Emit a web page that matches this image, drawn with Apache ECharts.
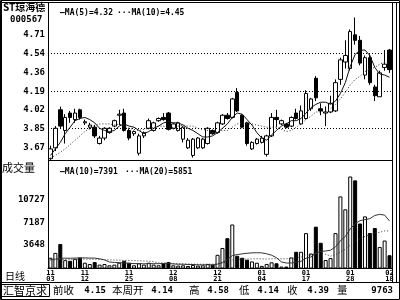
<!DOCTYPE html>
<html><head><meta charset="utf-8">
<script src="https://cdn.jsdelivr.net/npm/echarts@6/dist/echarts.min.js"></script>
<style>html,body{margin:0;padding:0;background:#fff}#c{width:400px;height:300px}</style>
</head><body><div id="c"></div>
<script>
const dates = [
'2004-11-03','2004-11-04','2004-11-05','2004-11-08','2004-11-09','2004-11-10','2004-11-11','2004-11-12','2004-11-15','2004-11-16',
'2004-11-17','2004-11-18','2004-11-19','2004-11-22','2004-11-23','2004-11-24','2004-11-25','2004-11-26','2004-11-29','2004-11-30',
'2004-12-01','2004-12-02','2004-12-03','2004-12-06','2004-12-07','2004-12-08','2004-12-09','2004-12-10','2004-12-13','2004-12-14',
'2004-12-15','2004-12-16','2004-12-17','2004-12-20','2004-12-21','2004-12-22','2004-12-23','2004-12-24','2004-12-27','2004-12-28',
'2004-12-29','2004-12-30','2004-12-31','2005-01-04','2005-01-05','2005-01-06','2005-01-07','2005-01-10','2005-01-11','2005-01-12',
'2005-01-13','2005-01-14','2005-01-17','2005-01-18','2005-01-19','2005-01-20','2005-01-21','2005-01-24','2005-01-25','2005-01-26',
'2005-01-27','2005-01-28','2005-01-31','2005-02-01','2005-02-02','2005-02-03','2005-02-04','2005-02-16','2005-02-17','2005-02-18'];
const open = [
3.57,3.67,4.02,3.83,3.99,3.93,4.02,3.90,3.86,3.86,
3.71,3.76,3.81,3.87,3.97,3.99,3.83,3.80,3.62,3.78,
3.85,3.83,3.92,3.95,3.99,3.85,3.83,3.75,3.67,3.60,
3.67,3.67,3.71,3.83,3.81,3.89,3.97,3.95,4.18,3.97,
3.90,3.66,3.71,3.72,3.61,3.78,3.95,3.89,3.89,3.87,
3.99,3.89,3.94,4.03,4.31,4.03,3.99,4.00,4.01,4.30,
4.46,4.40,4.71,4.66,4.34,4.50,4.23,4.14,4.41,4.57];
const close = [
3.66,3.85,3.87,3.95,3.95,3.99,3.95,3.91,3.88,3.78,
3.76,3.85,3.85,3.92,3.98,3.83,3.76,3.82,3.78,3.81,
3.92,3.90,3.94,3.93,3.84,3.89,3.90,3.86,3.74,3.75,
3.76,3.75,3.85,3.80,3.90,3.97,3.94,4.12,4.01,3.86,
3.71,3.72,3.75,3.76,3.78,3.95,3.93,3.92,3.86,3.95,
3.94,4.01,4.17,4.12,4.13,4.01,4.00,4.08,4.27,4.48,
4.52,4.74,4.66,4.45,4.50,4.27,4.15,4.36,4.44,4.39];
const low = [
3.56,3.64,3.85,3.71,3.90,3.90,3.93,3.88,3.84,3.76,
3.70,3.74,3.80,3.86,3.88,3.82,3.74,3.78,3.60,3.76,
3.84,3.82,3.91,3.92,3.83,3.84,3.82,3.72,3.66,3.58,
3.66,3.66,3.70,3.79,3.80,3.88,3.93,3.94,4.00,3.85,
3.69,3.65,3.70,3.71,3.59,3.77,3.86,3.88,3.85,3.86,
3.93,3.88,3.93,4.01,4.10,3.97,3.87,3.99,4.00,4.25,
4.40,4.38,4.62,4.43,4.30,4.25,4.10,4.14,4.38,4.36];
const high = [
3.69,3.87,4.05,3.98,4.01,4.03,4.03,3.93,3.90,3.88,
3.78,3.86,3.86,3.93,4.02,4.03,3.85,3.83,3.80,3.82,
3.94,3.91,3.95,3.99,4.00,3.90,3.91,3.87,3.76,3.76,
3.77,3.76,3.86,3.84,3.91,3.98,3.99,4.13,4.22,3.98,
3.91,3.73,3.76,3.78,3.79,3.99,4.02,3.93,3.90,3.96,
4.03,4.06,4.20,4.13,4.33,4.08,4.05,4.15,4.30,4.50,
4.66,4.76,4.87,4.70,4.52,4.53,4.25,4.38,4.57,4.58];
const ma5 = [
3.60,3.66,3.72,3.80,3.86,3.92,3.94,3.95,3.93,3.90,
3.85,3.83,3.82,3.83,3.87,3.89,3.87,3.86,3.83,3.80,
3.82,3.85,3.87,3.90,3.91,3.90,3.90,3.88,3.85,3.83,
3.80,3.77,3.77,3.78,3.81,3.85,3.89,3.95,3.99,3.98,
3.93,3.88,3.81,3.76,3.74,3.79,3.83,3.87,3.89,3.92,
3.92,3.94,3.99,4.04,4.07,4.09,4.09,4.07,4.10,4.17,
4.27,4.42,4.53,4.57,4.57,4.52,4.41,4.35,4.34,4.32];
const ma10 = [
3.58,3.60,3.63,3.66,3.70,3.74,3.78,3.82,3.85,3.88,
3.89,3.89,3.89,3.88,3.89,3.87,3.85,3.84,3.83,3.84,
3.85,3.86,3.87,3.87,3.85,3.86,3.87,3.88,3.87,3.87,
3.85,3.84,3.83,3.81,3.82,3.83,3.83,3.86,3.89,3.90,
3.89,3.89,3.88,3.87,3.86,3.86,3.86,3.84,3.82,3.83,
3.86,3.89,3.93,3.96,4.00,4.00,4.01,4.03,4.07,4.12,
4.18,4.25,4.30,4.33,4.37,4.40,4.41,4.44,4.46,4.45];
const volume = [
1670,2430,3800,1300,1200,1500,1700,900,700,1000,
600,700,500,600,900,1200,900,500,800,600,
900,600,500,800,1000,500,450,500,400,550,
450,500,700,600,2130,3190,4710,6840,1980,1670,
1370,1100,900,400,710,960,810,300,300,1720,
2600,2600,5500,2330,6500,4000,1320,1620,5500,11200,
9200,14300,13700,7000,8100,5520,6300,3350,4350,2063];
const volMa10 = [
1400,1450,1600,1600,1600,1620,1650,1650,1620,1620,
1513,1340,1010,940,910,880,800,760,770,730,
760,750,750,770,780,710,665,665,625,620,
575,565,585,565,678,947,1373,2007,2165,2277,
2369,2429,2449,2429,2287,2064,1674,1020,852,857,
980,1130,1590,1783,2362,2666,2717,2849,3369,4317,
4977,6147,6967,7434,7594,7746,8244,8417,8302,7388];
const volMa20 = [
1300,1320,1380,1400,1420,1430,1450,1450,1440,1430,
1400,1370,1340,1310,1290,1270,1240,1220,1200,1175,
1137,1045,880,855,845,795,733,713,698,675,
668,658,668,668,729,829,1019,1336,1395,1449,
1472,1497,1517,1497,1483,1506,1524,1514,1509,1567,
1675,1780,2020,2106,2325,2365,2196,1935,2111,2587,
2979,3639,4279,4609,4978,5206,5481,5633,5836,5853];
const priceTicks = [3.67,3.85,4.02,4.19,4.36,4.54,4.71];
const priceGridLines = [4.54,4.19,3.85];
const volTicks = [3648,7187,10727];
const dateLabelIdx = [0,7,16,25,34,43,52,61,69];
const stockName = 'ST琼海德';
const stockCode = '000567';
const priceLegend = ['—MA(5)=4.32','···MA(10)=4.45'];
const volLegend = ['—MA(10)=7391','···MA(20)=5851'];
const infoLabels = ['前收','本周开','高','低','收','量'];
const infoValues = ['4.15','4.14','4.58','4.14','4.39','9763'];

const mono = 'DejaVu Sans Mono';
const cjk = 'Noto Sans CJK SC';
const isUp = i => close[i] >= open[i];

function txt(text, x, y, font, size, weight, align) {
  return {type:'text', x:x, y:y, silent:true,
    style:{text:text, fill:'#000', font:(weight||'normal')+' '+size+'px "'+font+'"',
      textAlign:align||'left', textVerticalAlign:'middle'}};
}
function ln(x1,y1,x2,y2,w){
  return {type:'line', silent:true, shape:{x1:x1,y1:y1,x2:x2,y2:y2}, style:{stroke:'#000', lineWidth:w||1}};
}

const infoLabelX = [53,112,189,239,287,337];
const infoValueX = [106,173,229,279,329,393];
const graphics = [
  {type:'rect', silent:true, shape:{x:0.5,y:0.5,width:399,height:299}, style:{fill:'none',stroke:'#000',lineWidth:1}},
  ln(0,2.5,400,2.5), ln(1.5,0,1.5,300),
  ln(392.5,2,392.5,282), ln(396.5,2,396.5,282),
  ln(48.5,2,48.5,268.5),
  ln(48,160.5,392,160.5),
  ln(0,282.5,400,282.5),
  {type:'rect', silent:true, shape:{x:1.5,y:284.5,width:48,height:12}, style:{fill:'none',stroke:'#000',lineWidth:1}},
  txt(stockName, 3, 7.5, cjk, 10, 'bold'),
  txt(stockCode, 10, 19.5, mono, 9, 'bold'),
  txt(priceLegend[0], 60, 13, mono, 8, 'bold'),
  txt(priceLegend[1], 117, 13, mono, 8, 'bold'),
  txt(volLegend[0], 60, 172, mono, 8, 'bold'),
  txt(volLegend[1], 125, 172, mono, 8, 'bold'),
  txt('成交量', 2, 168, cjk, 11),
  txt('日线', 5, 276, cjk, 10),
  txt('汇智京求', 3, 290.5, cjk, 11)
];
infoLabels.forEach((t,i)=>graphics.push(txt(t, infoLabelX[i], 290.5, cjk, 10.5)));
infoValues.forEach((t,i)=>graphics.push(txt(t, infoValueX[i], 290.5, mono, 9, 'bold', 'right')));

const chart = echarts.init(document.getElementById('c'), null, {renderer:'canvas'});
chart.setOption({
  animation:false,
  backgroundColor:'#fff',
  grid:[{left:48,right:8,top:4,height:156},{left:48,right:8,top:163,bottom:31.5}],
  xAxis:[
    {type:'category', gridIndex:0, data:dates, boundaryGap:true,
     axisLine:{show:false}, axisTick:{show:false}, axisLabel:{show:false}, splitLine:{show:false}},
    {type:'category', gridIndex:1, data:dates, boundaryGap:true,
     axisLine:{show:true, lineStyle:{color:'#000', width:1}}, axisTick:{show:false}, splitLine:{show:false},
     axisLabel:{interval:(i)=>dateLabelIdx.includes(i), formatter:(v)=>v.slice(5,7)+'\n'+v.slice(8,10),
       fontFamily:mono, fontSize:7, fontWeight:'bold', lineHeight:6, color:'#000', margin:2}}
  ],
  yAxis:[
    {type:'value', gridIndex:0, min:3.558, max:4.994, axisLine:{show:false}, axisTick:{show:false}, splitLine:{show:false},
     axisLabel:{customValues:priceTicks, formatter:(v)=>Number(v).toFixed(2), fontFamily:mono, fontSize:9, fontWeight:'bold', color:'#000', margin:3}},
    {type:'value', gridIndex:1, min:0, max:16400, axisLine:{show:false}, axisTick:{show:false}, splitLine:{show:false},
     axisLabel:{customValues:volTicks, formatter:(v)=>String(v), fontFamily:mono, fontSize:9, fontWeight:'bold', color:'#000', margin:3}}
  ],
  series:[
    {type:'candlestick', xAxisIndex:0, yAxisIndex:0, barWidth:4,
     data:dates.map((d,i)=>[open[i],close[i],low[i],high[i]]),
     itemStyle:{color:'#fff', color0:'#000', borderColor:'#000', borderColor0:'#000', borderWidth:1},
     markLine:{silent:true, symbol:['none','none'], label:{show:false}, animation:false,
       lineStyle:{color:'#000', type:[1,2], width:1},
       data:priceGridLines.map(v=>({yAxis:v}))}},
    {type:'line', xAxisIndex:0, yAxisIndex:0, data:ma5, showSymbol:false, silent:true,
     lineStyle:{color:'#111', width:1}},
    {type:'line', xAxisIndex:0, yAxisIndex:0, data:ma10, showSymbol:false, silent:true,
     lineStyle:{color:'#333', width:1, type:[1,2]}},
    {type:'bar', xAxisIndex:1, yAxisIndex:1, barWidth:4,
     data:volume.map((v,i)=>({value:v, itemStyle:{color:isUp(i)?'#fff':'#000'}})),
     itemStyle:{borderColor:'#000', borderWidth:1}},
    {type:'line', xAxisIndex:1, yAxisIndex:1, data:volMa10, showSymbol:false, silent:true,
     lineStyle:{color:'#333', width:1}},
    {type:'line', xAxisIndex:1, yAxisIndex:1, data:volMa20, showSymbol:false, silent:true,
     lineStyle:{color:'#333', width:1, type:[1,2]}}
  ],
  graphic:graphics
});
</script>
</body></html>
